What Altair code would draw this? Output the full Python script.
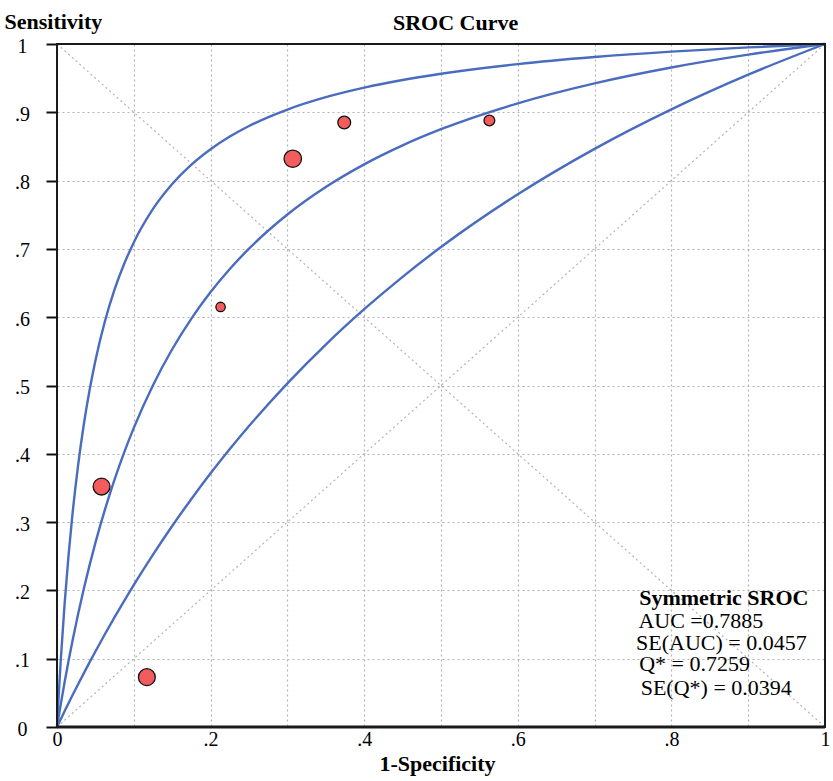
import altair as alt
import pandas as pd

# ---- data ----
FPR_GRID = [0, 0.002, 0.005, 0.01, 0.015, 0.02, 0.0275, 0.035, 0.0425, 0.05, 0.0625, 0.075,
            0.0875, 0.1, 0.125, 0.15, 0.175, 0.2, 0.225, 0.25, 0.3, 0.35, 0.4, 0.45, 0.5,
            0.6, 0.7, 0.8, 0.9, 1]
UPPER_TPR = [0, 0.0422, 0.0995, 0.1817, 0.2508, 0.3097, 0.3833, 0.4436, 0.4938, 0.5364, 0.5944, 0.6406,
             0.6782, 0.7095, 0.7585, 0.7950, 0.8234, 0.8460, 0.8645, 0.8799, 0.9040, 0.9221, 0.9361, 0.9473, 0.9565,
             0.9706, 0.9809, 0.9888, 0.9950, 1]
SROC_TPR = [0, 0.0139, 0.0340, 0.0662, 0.0965, 0.1252, 0.1655, 0.2028, 0.2374, 0.2696, 0.3186, 0.3625,
            0.4021, 0.4380, 0.5005, 0.5531, 0.5980, 0.6368, 0.6706, 0.7004, 0.7504, 0.7906, 0.8238, 0.8516, 0.8752,
            0.9132, 0.9424, 0.9656, 0.9844, 1]
LOWER_TPR = [0, 0.0047, 0.0117, 0.0233, 0.0347, 0.0460, 0.0626, 0.0789, 0.0949, 0.1106, 0.1361, 0.1608,
             0.1847, 0.2080, 0.2524, 0.2943, 0.3339, 0.3714, 0.4069, 0.4406, 0.5032, 0.5600, 0.6117, 0.6591, 0.7027,
             0.7800, 0.8465, 0.9043, 0.9551, 1]

STUDY_FPR = [0.058, 0.117, 0.213, 0.307, 0.374, 0.563]
STUDY_TPR = [0.352, 0.073, 0.615, 0.832, 0.885, 0.888]
STUDY_WEIGHT = [71, 71, 22, 76, 41, 29]

TICKS = [0, 0.1, 0.2, 0.3, 0.4, 0.5, 0.6, 0.7, 0.8, 0.9, 1]
Y_TICK_LABELS = ["0", ".1", ".2", ".3", ".4", ".5", ".6", ".7", ".8", ".9", "1"]
X_TICK_LABELS = ["0", "", ".2", "", ".4", "", ".6", "", ".8", "", "1"]

TITLE_TEXT = ["SROC Curve"]
TITLE_X = [0.519]
TITLE_Y = [1.021]

ANNOT_LINES = ["Symmetric SROC", "AUC =0.7885", "SE(AUC) = 0.0457", "Q* = 0.7259", "SE(Q*) = 0.0394"]
ANNOT_X = [0.758, 0.757, 0.754, 0.758, 0.760]
ANNOT_Y = [0.179, 0.1456, 0.1134, 0.0816, 0.0475]

FONT = "Liberation Serif"
BLUE = "#4a6cbf"
RED = "#f25c5c"
GRID = "#b4b4b4"
FRAME = "#1a1a1a"

# ---- tables ----
curve_rows = []
for name, tprs in [("upper", UPPER_TPR), ("sroc", SROC_TPR), ("lower", LOWER_TPR)]:
    for f, t in zip(FPR_GRID, tprs):
        curve_rows.append({"curve": name, "fpr": f, "tpr": t})
curves = pd.DataFrame(curve_rows)

diag = pd.DataFrame({
    "fpr": [0, 1, 0, 1],
    "tpr": [0, 1, 1, 0],
    "d": ["a", "a", "b", "b"],
})

studies = pd.DataFrame({"fpr": STUDY_FPR, "tpr": STUDY_TPR, "w": STUDY_WEIGHT})
annot = pd.DataFrame({"text": ANNOT_LINES, "fpr": ANNOT_X, "tpr": ANNOT_Y})
title_df = pd.DataFrame({"text": TITLE_TEXT, "fpr": TITLE_X, "tpr": TITLE_Y})


def label_expr(labels):
    arr = "[" + ",".join("'" + s + "'" for s in labels) + "]"
    return arr + "[round(datum.value*10)]"


xscale = alt.Scale(domain=[0, 1], nice=False, zero=False)
yscale = alt.Scale(domain=[0, 1], nice=False, zero=False)

x_axis = alt.Axis(
    values=TICKS, labelExpr=label_expr(X_TICK_LABELS),
    grid=True, gridColor=GRID, gridDash=[2, 3], gridWidth=1.2,
    ticks=False, tickSize=0, domain=False,
    labelFont=FONT, labelFontSize=20, labelColor="black", labelPadding=2,
    labelFlush=False, labelOverlap=False, labelBaseline="top",
    title="1-Specificity", titleFont=FONT, titleFontSize=22, titleFontWeight="bold",
    titleColor="black", titleX=380, titleY=43, titleAlign="center",
    titleBaseline="alphabetic", titleAnchor="start",
)
y_axis = alt.Axis(
    values=TICKS, labelExpr=label_expr(Y_TICK_LABELS),
    grid=True, gridColor=GRID, gridDash=[2, 3], gridWidth=1.2,
    ticks=True, tickSize=11, tickColor="#111", tickWidth=2, domain=False,
    labelFont=FONT, labelFontSize=20, labelColor="black", labelPadding=24,
    labelAlign="center", labelBaseline="middle", labelOffset=2,
    labelFlush=False, labelOverlap=False,
    title="Sensitivity", titleFont=FONT, titleFontSize=22, titleFontWeight="bold",
    titleColor="black", titleAngle=0, titleX=-53, titleY=-15.5, titleAlign="left",
    titleBaseline="alphabetic", titleAnchor="start",
)

X = alt.X("fpr:Q", scale=xscale, axis=x_axis)
Y = alt.Y("tpr:Q", scale=yscale, axis=y_axis)

diag_layer = alt.Chart(diag).mark_line(
    color=GRID, strokeDash=[2, 3], strokeWidth=1.2
).encode(x=X, y=Y, detail="d:N")

curve_layer = alt.Chart(curves).mark_line(
    color=BLUE, strokeWidth=2.4, interpolate="monotone"
).encode(x=X, y=Y, detail="curve:N", order="fpr:Q")

point_layer = alt.Chart(studies).mark_point(
    shape="circle", filled=True, fill=RED, stroke="#111", strokeWidth=1.3, opacity=1
).encode(
    x=X, y=Y,
    size=alt.Size("w:Q", scale=alt.Scale(domain=[0, 100], range=[0, 400]), legend=None),
)

annot_head = alt.Chart(annot.iloc[:1]).mark_text(
    font=FONT, fontSize=22, fontWeight="bold", align="left", baseline="alphabetic", color="black"
).encode(x=X, y=Y, text="text:N")

annot_body = alt.Chart(annot.iloc[1:]).mark_text(
    font=FONT, fontSize=22, align="left", baseline="alphabetic", color="black"
).encode(x=X, y=Y, text="text:N")

title_layer = alt.Chart(title_df).mark_text(
    font=FONT, fontSize=22, fontWeight="bold", align="center", baseline="alphabetic", color="black"
).encode(x=X, y=Y, text="text:N")

# solid frame drawn over the grid
frame_v = alt.Chart(pd.DataFrame({"fpr": [0, 1]})).mark_rule(
    color=FRAME, strokeWidth=2
).encode(x=X)
frame_top = alt.Chart(pd.DataFrame({"tpr": [1]})).mark_rule(
    color=FRAME, strokeWidth=2
).encode(y=Y)
frame_bottom = alt.Chart(pd.DataFrame({"tpr": [0]})).mark_rule(
    color=FRAME, strokeWidth=3
).encode(y=Y)

chart = alt.layer(
    diag_layer, curve_layer, frame_v, frame_top, frame_bottom,
    point_layer, annot_head, annot_body, title_layer
).properties(
    width=768, height=683,
    background="white",
    autosize=alt.AutoSizeParams(type="none"),
    padding={"left": 57, "top": 44, "right": 8, "bottom": 54},
).configure_view(
    stroke=FRAME, strokeWidth=2
)

chart.save("out.html", embed_options={"renderer": "svg", "actions": False})
